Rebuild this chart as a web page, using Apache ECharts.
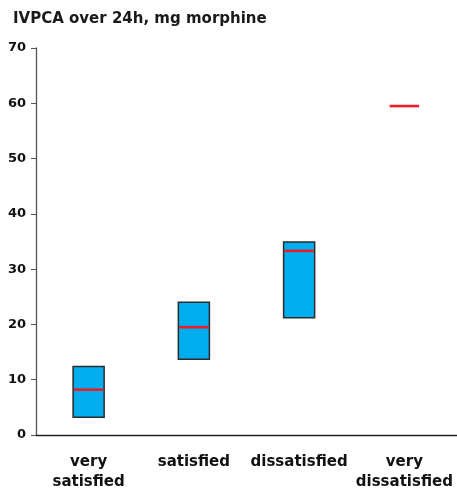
<!DOCTYPE html>
<html>
<head>
<meta charset="utf-8">
<script src="https://cdn.jsdelivr.net/npm/echarts@6/dist/echarts.min.js"></script>
<style>html,body{margin:0;padding:0;background:#fff}#c{width:457px;height:492px}</style>
</head>
<body>
<div id="c"></div>
<script>
const categories = ['very\nsatisfied', 'satisfied', 'dissatisfied', 'very\ndissatisfied'];
const boxLow = [3.2, 13.7, 21.2, null];
const boxHigh = [12.4, 24.0, 34.9, null];
const medians = [8.2, 19.5, 33.3, 59.5];
const yTicks = [0, 10, 20, 30, 40, 50, 60, 70];

const chart = echarts.init(document.getElementById('c'), null, {renderer: 'canvas'});
const FONT = '"DejaVu Sans", Verdana, sans-serif';
const BOX_FRAC = 0.295;

const boxData = categories.map((c, i) => [i, boxLow[i], boxHigh[i]]).filter(d => d[1] != null);
const medData = categories.map((c, i) => [i, medians[i]]);

chart.setOption({
  animation: false,
  title: {
    text: 'IVPCA over 24h, mg morphine',
    left: 8, top: 7,
    textStyle: {fontFamily: FONT, fontSize: 15, fontWeight: 'bold', color: '#1a1a1a'}
  },
  grid: {left: 36, right: 0, top: 48, bottom: 50, containLabel: false},
  xAxis: {
    type: 'category',
    data: categories,
    axisLine: {lineStyle: {color: '#222', width: 1.3}},
    axisTick: {show: false},
    axisLabel: {fontFamily: FONT, fontSize: 15, color: '#111', fontWeight: 'bold', margin: 17, lineHeight: 20, interval: 0}
  },
  yAxis: {
    type: 'value',
    min: 0, max: 70, interval: 10,
    splitLine: {show: false},
    axisLine: {show: true, lineStyle: {color: '#555', width: 1.3}},
    axisTick: {show: true, length: 5, lineStyle: {color: '#555'}},
    axisLabel: {fontFamily: FONT, fontSize: 13, color: '#111', fontWeight: 'bold', margin: 10,
      formatter: v => yTicks.includes(v) ? String(v) : ''}
  },
  series: [
    {
      type: 'custom',
      data: boxData,
      encode: {x: 0, y: [1, 2]},
      renderItem: function (params, api) {
        const p1 = api.coord([api.value(0), api.value(1)]);
        const p2 = api.coord([api.value(0), api.value(2)]);
        const w = api.size([1, 0])[0] * BOX_FRAC;
        return {
          type: 'rect',
          shape: {x: p1[0] - w / 2, y: p2[1], width: w, height: p1[1] - p2[1]},
          style: {fill: '#00aeef', stroke: '#2b2b2b', lineWidth: 1.5}
        };
      },
      z: 2
    },
    {
      type: 'custom',
      data: medData,
      encode: {x: 0, y: 1},
      renderItem: function (params, api) {
        const p = api.coord([api.value(0), api.value(1)]);
        const w = api.size([1, 0])[0] * BOX_FRAC;
        return {
          type: 'line',
          shape: {x1: p[0] - w / 2 + 0.8, y1: p[1], x2: p[0] + w / 2 - 0.8, y2: p[1]},
          style: {stroke: '#ee1c25', lineWidth: 2.6}
        };
      },
      z: 3
    }
  ]
});
</script>
</body>
</html>
